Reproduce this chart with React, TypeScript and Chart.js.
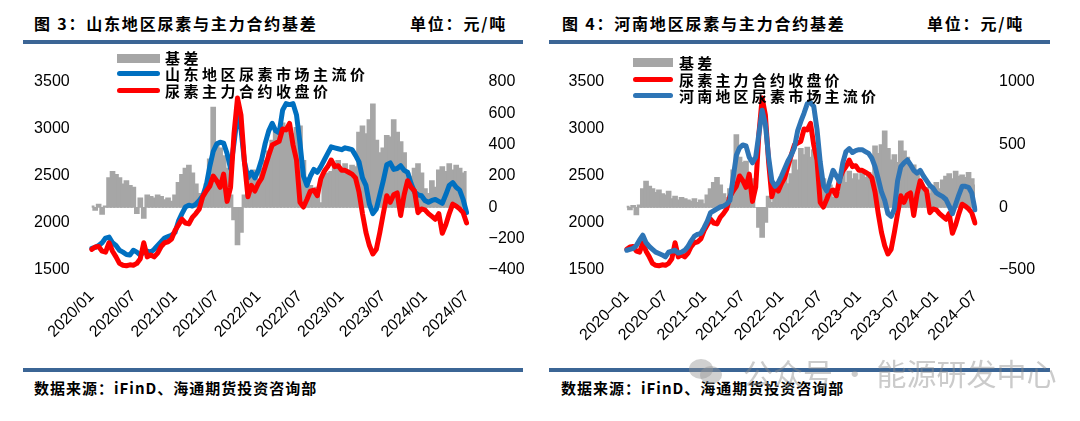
import React, { useEffect, useRef } from 'react';
import { Chart, registerables } from 'chart.js';

Chart.register(...registerables);

// ---------- categories (semi-monthly, 2020/01 .. 2024/07) ----------
const periods: string[] = [];
for (let y = 2020; y <= 2024; y++) {
  for (let mo = 1; mo <= 12; mo++) {
    for (const h of ['上', '下']) {
      if (periods.length < 109) periods.push(`${y}/${String(mo).padStart(2, '0')}${h}`);
    }
  }
}

// ---------- tick labels ----------
const xTicksShandong = ['2020/01', '2020/07', '2021/01', '2021/07', '2022/01', '2022/07', '2023/01', '2023/07', '2024/01', '2024/07'];
const xTicksHenan = ['2020–01', '2020–07', '2021–01', '2021–07', '2022–01', '2022–07', '2023–01', '2023–07', '2024–01', '2024–07'];

// ---------- series (元/吨) ----------
// 尿素主力合约收盘价
const futuresClose = [
  1720, 1745, 1750, 1700, 1690, 1790, 1700, 1640, 1570, 1550, 1545, 1555, 1550, 1570, 1620, 1790, 1640, 1660, 1640, 1680, 1750, 1790, 1800, 1830,
  1920, 1980, 2040, 2000, 1990, 2060, 2100, 2150, 2280, 2340, 2390, 2500, 2450, 2380, 2520, 2230, 2380, 2950, 3330, 3150, 2650, 2280, 2400, 2340,
  2420, 2480, 2600, 2720, 2830, 2850, 2870, 3000, 2990, 3060, 2830, 2670, 2220, 2170, 2250, 2340, 2350, 2290, 2470, 2550, 2600, 2670, 2600, 2610,
  2560, 2560, 2540, 2520, 2480, 2330, 2100, 1900, 1760, 1670, 1720, 1900, 2100, 2290, 2220, 2300, 2320, 2080, 2300, 2450, 2380, 2340, 2110, 2150,
  2140, 2100, 2070, 2040, 2100, 1890, 1980, 2100, 2200, 2180, 2150, 2110, 2000,
];
// 山东地区尿素市场主流价
const shandongSpot = [
  1730, 1740, 1760, 1790, 1840, 1850, 1790, 1760, 1710, 1690, 1665, 1660, 1710, 1690, 1660, 1690, 1700, 1690, 1720, 1760, 1800, 1840, 1855, 1870,
  1900, 2020, 2100, 2170, 2190, 2180, 2200, 2240, 2290, 2400, 2600, 2760, 2840, 2860, 2850, 2740, 2580, 2850, 3150, 3000, 2650, 2480, 2540, 2480,
  2560, 2680, 2850, 2980, 3060, 2980, 2960, 3200, 3270, 3260, 3270, 3150, 2850, 2500, 2400, 2500, 2570, 2540, 2600, 2670, 2740, 2810, 2800, 2790,
  2780, 2800, 2790, 2780, 2720, 2650, 2480, 2400, 2200, 2100, 2150, 2300, 2450, 2620, 2640, 2570, 2580, 2610, 2560, 2540, 2420, 2330, 2300, 2290,
  2240, 2220, 2240, 2250, 2230, 2210, 2300, 2400, 2430, 2380, 2350, 2250, 2110,
];
// 河南地区尿素市场主流价
const henanSpot = [
  1710, 1720, 1730, 1760, 1820, 1870, 1790, 1750, 1720, 1690, 1675, 1660, 1640, 1690, 1700, 1710, 1680, 1690, 1710, 1750, 1810, 1860, 1880, 1890,
  1950, 2020, 2110, 2130, 2150, 2170, 2180, 2200, 2240, 2480, 2720, 2800, 2830, 2820, 2700, 2640, 2700, 2950, 3200, 3050, 2700, 2450, 2390, 2430,
  2500, 2580, 2660, 2720, 2800, 2980, 3080, 3170, 3270, 3280, 3240, 3000, 2650, 2400, 2340, 2450, 2560, 2500, 2440, 2640, 2760, 2790, 2750, 2770,
  2780, 2780, 2760, 2740, 2690, 2600, 2470, 2330, 2240, 2100, 2070, 2150, 2450, 2600, 2640, 2670, 2620, 2560, 2530, 2560, 2500, 2450, 2400, 2370,
  2320, 2300, 2280, 2250, 2180, 2100, 2200, 2300, 2390, 2390, 2380, 2320, 2140,
];
// 基差（山东）
const shandongBasis = [
  10, -20, 20, -45, 10, 190, 230, 210, 190, 150, 170, 140, 130, -40, 60, -70, 80, 70, 60, 80, 70, 50, 60, 40,
  80, 160, 210, 250, 270, 220, 150, 90, 60, 150, 310, 640, 420, 380, 330, 250, 80, -80, -240, -160, 80, 180, 200, 240,
  180, 250, 300, 360, 430, 500, 470, 540, 520, 470, 470, 510, 520, 300, 190, 140, 100, 130, 30, 200, 220, 230, 280, 300,
  250, 280, 240, 270, 260, 480, 520, 470, 560, 660, 430, 350, 380, 460, 450, 560, 480, 420, 350, 220, 200, 250, 280, 220,
  120, 90, 170, 130, 240, 260, 230, 280, 240, 270, 250, 220, 230,
];
// 基差（河南）
const henanBasis = [
  10, -20, 15, -60, 20, 150, 210, 170, 150, 120, 140, 110, 100, 130, 70, 90, 60, 80, 70, 60, 50, 70, 40, 60,
  30, 100, 150, 200, 240, 180, 110, 80, 150, 300, 580, 400, 360, 370, 250, 230, 0, -160, -240, -120, 90, 40, 160, 200,
  220, 250, 190, 270, 380, 300, 470, 420, 480, 400, 460, 420, 250, 230, 120, 180, 80, 150, 120, 280, 200, 290, 230, 270,
  220, 290, 240, 280, 250, 490, 430, 500, 610, 470, 380, 420, 360, 530, 450, 400, 330, 340, 270, 200, 140, 160, 110, 170,
  200, 150, 220, 250, 270, 230, 290, 250, 260, 240, 280, 230, 180,
];

const RED = '#FF0000';
const BLUE_SD = '#0070C0';
const BLUE_HN = '#2E75B6';
const GRAY = '#A6A6A6';
const RULE = '#3B6595';
const TICK_FONT = { family: '"Liberation Sans", Arial, sans-serif', size: 16 };
const CJK = '"Noto Sans CJK SC", "Noto Sans", sans-serif';

const fmtNum = (v: number) => (v < 0 ? '\u2212' + Math.abs(v) : String(v));

type PanelCfg = {
  canvasLeft: number;
  xTicks: string[];
  spot: number[];
  spotLabel: string;
  spotColor: string;
  basis: number[];
  spotOnTop: boolean;
  y1Min: number;
  y1Max: number;
  y1Step: number;
  yW: number;
  y1W: number;
  yPad: number;
  y1Pad: number;
};

function PanelChart({ cfg }: { cfg: PanelCfg }) {
  const ref = useRef<HTMLCanvasElement>(null);
  useEffect(() => {
    const chart = new Chart(ref.current as HTMLCanvasElement, {
      type: 'bar',
      data: {
        labels: periods,
        datasets: [
          {
            type: 'bar',
            label: '基差',
            data: cfg.basis,
            yAxisID: 'y1',
            backgroundColor: GRAY,
            borderWidth: 0,
            barThickness: 5,
            order: 3,
          } as any,
          {
            type: 'line',
            label: cfg.spotLabel,
            data: cfg.spot,
            yAxisID: 'y',
            borderColor: cfg.spotColor,
            backgroundColor: cfg.spotColor,
            borderWidth: 5,
            pointRadius: 0,
            tension: 0,
            borderJoinStyle: 'round',
            borderCapStyle: 'round',
            order: cfg.spotOnTop ? 1 : 2,
          } as any,
          {
            type: 'line',
            label: '尿素主力合约收盘价',
            data: futuresClose,
            yAxisID: 'y',
            borderColor: RED,
            backgroundColor: RED,
            borderWidth: 5,
            pointRadius: 0,
            tension: 0,
            borderJoinStyle: 'round',
            borderCapStyle: 'round',
            order: cfg.spotOnTop ? 2 : 1,
          } as any,
        ],
      },
      options: {
        responsive: false,
        animation: false,
        layout: { padding: { top: 82, left: 0, right: 0, bottom: 0 } },
        plugins: { legend: { display: false }, tooltip: { enabled: false } },
        scales: {
          x: {
            offset: false,
            grid: { display: false },
            border: { display: false },
            ticks: {
              autoSkip: false,
              maxRotation: 45,
              minRotation: 45,
              padding: 9,
              color: '#000',
              font: TICK_FONT,
              callback: (value: any) => cfg.xTicks[Math.round(Number(value) / 12)] ?? '',
            },
            afterBuildTicks: (scale: any) => {
              scale.ticks = scale.ticks.filter((t: any) => t.value % 12 === 0);
            },
            afterFit: (scale: any) => {
              scale.height = 151;
              scale.paddingLeft = 0;
              scale.paddingRight = 0;
            },
          },
          y: {
            position: 'left',
            min: 1500,
            max: 3500,
            grid: { display: false },
            border: { display: false },
            ticks: { stepSize: 500, padding: cfg.yPad, color: '#000', font: TICK_FONT, callback: (v: any) => fmtNum(Number(v)) },
            afterFit: (scale: any) => {
              scale.width = cfg.yW;
            },
          },
          y1: {
            position: 'right',
            min: cfg.y1Min,
            max: cfg.y1Max,
            grid: { display: false },
            border: { display: false },
            ticks: { stepSize: cfg.y1Step, padding: cfg.y1Pad, color: '#000', font: TICK_FONT, callback: (v: any) => fmtNum(Number(v)) },
            afterFit: (scale: any) => {
              scale.width = cfg.y1W;
            },
          },
        },
      } as any,
    });
    return () => chart.destroy();
  }, []);
  return (
    <canvas
      ref={ref}
      width={540}
      height={421}
      style={{ position: 'absolute', left: cfg.canvasLeft, top: 0, width: 540, height: 421 }}
    />
  );
}

function Txt(props: { x: number; cy: number; size: number; text: string; weight?: any; ls?: number; color?: string; font?: string }) {
  const lh = props.size + 6;
  return (
    <div
      style={{
        position: 'absolute',
        left: props.x,
        top: props.cy - lh / 2,
        height: lh,
        lineHeight: `${lh}px`,
        fontSize: props.size,
        fontFamily: props.font || CJK,
        fontWeight: props.weight || 'normal',
        letterSpacing: props.ls ?? 0,
        color: props.color || '#000',
        whiteSpace: 'nowrap',
      }}
    >
      {props.text}
    </div>
  );
}

function Box(props: { x: number; y: number; w: number; h: number; color: string; r?: number }) {
  return (
    <div
      style={{
        position: 'absolute',
        left: props.x,
        top: props.y,
        width: props.w,
        height: props.h,
        background: props.color,
        borderRadius: props.r || 0,
      }}
    />
  );
}

const leftCfg: PanelCfg = {
  canvasLeft: 0,
  xTicks: xTicksShandong,
  spot: shandongSpot,
  spotLabel: '山东地区尿素市场主流价',
  spotColor: BLUE_SD,
  basis: shandongBasis,
  spotOnTop: false,
  y1Min: -400,
  y1Max: 800,
  y1Step: 200,
  yW: 91.7,
  y1W: 73.4,
  yPad: 14,
  y1Pad: 14,
};

const rightCfg: PanelCfg = {
  canvasLeft: 540,
  xTicks: xTicksHenan,
  spot: henanSpot,
  spotLabel: '河南地区尿素市场主流价',
  spotColor: BLUE_HN,
  basis: henanBasis,
  spotOnTop: true,
  y1Min: -500,
  y1Max: 1000,
  y1Step: 500,
  yW: 86.7,
  y1W: 105,
  yPad: 14.5,
  y1Pad: 16,
};

export default function App() {
  useEffect(() => {
    document.body.style.margin = '0';
  }, []);
  return (
    <div style={{ position: 'relative', width: 1080, height: 421, background: '#fff', overflow: 'hidden' }}>
      {/* left panel frame */}
      <Txt x={34} cy={23} size={16} weight="bold" ls={1.8} text="图 3：山东地区尿素与主力合约基差" />
      <Txt x={410} cy={23} size={16} weight="bold" ls={1.8} text="单位：元/吨" />
      <Box x={23} y={40} w={500} h={4} color={RULE} />
      <Box x={23} y={368} w={500} h={4} color={RULE} />
      <Txt x={34} cy={387} size={15} weight={600} ls={1} text="数据来源：iFinD、海通期货投资咨询部" />

      {/* right panel frame */}
      <Txt x={562} cy={23} size={16} weight="bold" ls={1.8} text="图 4：河南地区尿素与主力合约基差" />
      <Txt x={927} cy={23} size={16} weight="bold" ls={1.8} text="单位：元/吨" />
      <Box x={549} y={40} w={501} h={4} color={RULE} />
      <Box x={549} y={368} w={501} h={4} color={RULE} />
      <Txt x={561} cy={387} size={15} weight={600} ls={1} text="数据来源：iFinD、海通期货投资咨询部" />

      <PanelChart cfg={leftCfg} />
      <PanelChart cfg={rightCfg} />

      {/* left legend */}
      <Box x={117} y={53.5} w={43} h={9} color={GRAY} />
      <Box x={117} y={71} w={43} h={5} r={2.5} color={BLUE_SD} />
      <Box x={117} y={87.5} w={43} h={5} r={2.5} color={RED} />
      <Txt x={165} cy={57.5} size={15} weight={600} ls={3.5} text="基差" />
      <Txt x={165} cy={73.5} size={15} weight={600} ls={3.5} text="山东地区尿素市场主流价" />
      <Txt x={165} cy={90} size={15} weight={600} ls={3.5} text="尿素主力合约收盘价" />

      {/* right legend */}
      <Box x={633} y={58} w={40} h={9} color={GRAY} />
      <Box x={633} y={77} w={40} h={5} r={2.5} color={RED} />
      <Box x={633} y={92.5} w={40} h={5} r={2.5} color={BLUE_HN} />
      <Txt x={679} cy={62} size={15} weight={600} ls={3.2} text="基差" />
      <Txt x={679} cy={79.5} size={15} weight={600} ls={3.2} text="尿素主力合约收盘价" />
      <Txt x={679} cy={95.5} size={15} weight={600} ls={3.2} text="河南地区尿素市场主流价" />

      {/* account watermark */}
      <svg style={{ position: 'absolute', left: 688, top: 357 }} width={36} height={30} viewBox="0 0 36 30">
        <ellipse cx={13} cy={12} rx={12} ry={10} fill="rgba(150,150,150,0.45)" />
        <ellipse cx={23} cy={18} rx={11} ry={9} fill="rgba(150,150,150,0.45)" />
      </svg>
      <Txt x={743} cy={372} size={30} color="rgba(140,140,140,0.45)" text="公众号 · 能源研发中心" />
    </div>
  );
}
